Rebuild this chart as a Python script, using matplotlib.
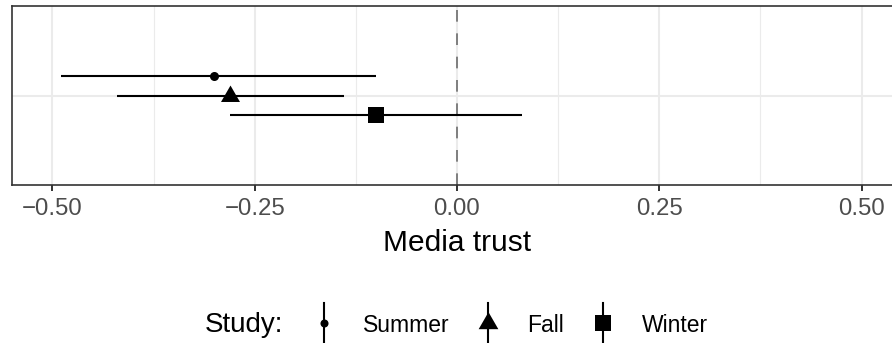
import matplotlib
matplotlib.use("Agg")
import matplotlib.pyplot as plt
import numpy as np
from matplotlib.lines import Line2D
from matplotlib.legend_handler import HandlerBase
from matplotlib.ticker import FixedLocator, FixedFormatter

plt.rcParams['font.family'] = ['Liberation Sans', 'DejaVu Sans']

# Estimates with 95% intervals for each study wave
studies = ["Summer", "Fall", "Winter"]
estimates = [-0.30, -0.28, -0.10]
ci_low = [-0.49, -0.42, -0.28]
ci_high = [-0.10, -0.14, 0.08]

x_ticks = [-0.50, -0.25, 0.00, 0.25, 0.50]
x_tick_labels = ["\u22120.50", "\u22120.25", "0.00", "0.25", "0.50"]
x_minor = [-0.375, -0.125, 0.125, 0.375]

# equilateral triangle centred on its centroid
tri = [(-1, -0.577), (1, -0.577), (0, 1.155)]
# marker, size in panel, size in legend
markers = {"Summer": ("o", 6.5, 5.8), "Fall": (tri, 15.8, 16.4), "Winter": ("s", 11.5, 11.5)}

W, H = 892, 343
fig = plt.figure(figsize=(W / 100, H / 100), dpi=100)
ax = fig.add_axes([12 / W, (H - 185) / H, 890 / W, 179 / H])

ax.set_xlim(-0.55, 0.55)
ax.set_ylim(0.4, 1.6)

# grid
for v in x_ticks:
    ax.axvline(v, color="#EBEBEB", lw=1.5, zorder=0)
for v in x_minor:
    ax.axvline(v, color="#EBEBEB", lw=0.8, zorder=0)
ax.axhline(1.0, color="#EBEBEB", lw=1.5, zorder=0)

ax.axvline(0, color="#7F7F7F", lw=1.4, dashes=(6.0, 6.0), zorder=1)

dodge = 0.4
offsets = np.linspace(dodge / 3, -dodge / 3, len(studies))
for s, est, lo, hi, off in zip(studies, estimates, ci_low, ci_high, offsets):
    y = 1.0 + off
    ax.plot([lo, hi], [y, y], color="black", lw=1.5, solid_capstyle="butt", zorder=2)
    m, ms, _ = markers[s]
    ax.plot([est], [y], marker=m, ms=ms, color="black", mew=0, ls="none", zorder=3)

ax.xaxis.set_major_locator(FixedLocator(x_ticks))
ax.xaxis.set_major_formatter(FixedFormatter(x_tick_labels))
ax.set_yticks([])
ax.tick_params(axis="x", length=4.5, width=1.4, color="#333333", pad=5,
               labelsize=17.3, labelcolor="#4D4D4D")
for sp in ax.spines.values():
    sp.set_color("#333333")
    sp.set_linewidth(1.2)
ax.set_xlabel("Media trust", fontsize=21.5, color="black", labelpad=6)


class VerticalKey(HandlerBase):
    def create_artists(self, legend, orig_handle, xdescent, ydescent,
                       width, height, fontsize, trans):
        cx = width / 2 - xdescent
        cy = height / 2 - ydescent
        half = 14.5
        line = Line2D([cx, cx], [cy - half, cy + half], color="black", lw=1.5)
        mk = Line2D([cx], [cy], marker=orig_handle.get_marker(),
                    ms=orig_handle.get_markersize(), color="black", mew=0, ls="none")
        line.set_transform(trans)
        mk.set_transform(trans)
        return [line, mk]


handles = [Line2D([], [], marker=markers[s][0], ms=markers[s][2], color="black", ls="none")
           for s in studies]
legend_y = (H - 325) / H
fig.text(205 / W, legend_y, "Study:", fontsize=20, va="center", ha="left")
leg = fig.legend(handles, studies, loc="center left", bbox_to_anchor=(312.5 / W, legend_y),
                 ncol=3, frameon=False, fontsize=16.5, handlelength=1.0, handletextpad=1.2,
                 columnspacing=1.2, borderpad=0, borderaxespad=0,
                 handler_map={Line2D: VerticalKey()})

fig.savefig("out.png", dpi=100)
